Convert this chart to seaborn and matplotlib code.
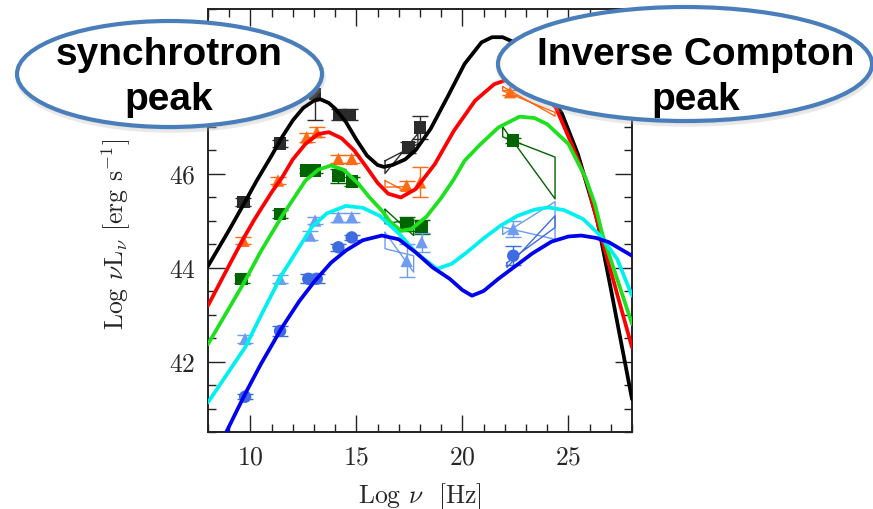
import numpy as np
import pandas as pd
import matplotlib
matplotlib.use("Agg")
import matplotlib.pyplot as plt
from matplotlib.patches import Ellipse
from matplotlib.ticker import MultipleLocator
import seaborn as sns

# Estilo
sns.set_theme(style="ticks")
plt.rcParams["font.family"] = ["cmr10", "DejaVu Serif"]
plt.rcParams["mathtext.fontset"] = "cm"
plt.rcParams["axes.formatter.use_mathtext"] = True

# Curvas do modelo (Log nu, Log nuL_nu)
black_x = [8.0, 9.0, 9.7, 10.3, 11.0, 11.5, 12.0, 12.5, 13.0, 13.3, 13.7, 14.0, 14.5, 15.0, 15.5, 16.0, 16.3,
           16.7, 17.3, 17.8, 18.5, 19.3, 20.1, 20.9, 21.4, 21.9, 22.5, 23.0, 23.5, 24.0, 24.7, 25.45, 26.35, 27.0, 28.0]
black_y = [44.03, 44.8, 45.36, 45.85, 46.38, 46.78, 47.13, 47.4, 47.55, 47.58, 47.5, 47.38, 47.1, 46.72, 46.38, 46.18, 46.14,
           46.18, 46.3, 46.5, 46.95, 47.63, 48.33, 48.79, 48.9, 48.9, 48.78, 48.55, 48.2, 47.8, 47.27, 46.41, 45.03, 43.55, 41.2]

red_x = [8.0, 9.0, 9.65, 10.2, 11.0, 11.5, 12.0, 12.6, 13.2, 13.7, 14.3, 14.9, 15.5, 16.0, 16.5, 17.1, 17.8,
         18.7, 19.6, 20.6, 21.5, 22.2, 22.8, 23.5, 24.4, 25.15, 25.9, 26.6, 28.0]
red_y = [43.19, 44.05, 44.6, 45.03, 45.6, 45.92, 46.3, 46.63, 46.84, 46.88, 46.75, 46.49, 46.12, 45.8, 45.57, 45.49, 45.67,
         46.2, 46.91, 47.55, 47.9, 48.01, 47.98, 47.8, 47.41, 46.63, 45.78, 44.57, 42.3]

green_x = [8.0, 9.0, 9.75, 10.5, 11.5, 12.6, 13.2, 13.8, 14.4, 15.1, 15.6, 16.2, 16.6, 17.1, 17.6, 18.3, 19.0,
           19.6, 20.1, 20.8, 21.7, 22.7, 23.4, 24.0, 25.0, 25.8, 26.25, 26.6, 28.0]
green_y = [42.37, 43.14, 43.72, 44.35, 45.1, 45.85, 46.08, 46.17, 46.08, 45.78, 45.5, 45.21, 44.97, 44.78, 44.82, 45.08, 45.48,
           45.88, 46.27, 46.6, 46.98, 47.21, 47.18, 47.05, 46.63, 45.92, 45.35, 44.71, 42.8]

cyan_x = [8.0, 9.75, 10.5, 11.5, 12.9, 13.6, 14.5, 15.3, 16.1, 17.1, 17.8, 18.8, 19.5, 20.2, 21.0, 21.8, 22.6,
          23.4, 24.05, 24.8, 25.7, 26.5, 27.3, 28.0]
cyan_y = [41.13, 42.3, 42.98, 43.86, 44.86, 45.15, 45.31, 45.27, 45.1, 44.68, 44.32, 43.97, 44.08, 44.32, 44.62, 44.89, 45.1,
          45.23, 45.28, 45.22, 45.03, 44.68, 44.18, 43.4]

blue_x = [8.7, 9.75, 10.5, 11.5, 12.3, 13.05, 13.8, 14.5, 15.3, 16.2, 17.0, 17.8, 18.6, 19.4, 20.0, 20.45, 21.0,
          21.7, 22.5, 23.3, 24.2, 25.0, 25.6, 26.3, 26.9, 28.0]
blue_y = [40.35, 41.31, 41.95, 42.73, 43.28, 43.72, 44.1, 44.36, 44.58, 44.68, 44.6, 44.32, 44.0, 43.76, 43.52, 43.4, 43.5,
          43.76, 44.03, 44.3, 44.55, 44.66, 44.68, 44.63, 44.54, 44.25]

# Pontos observados (com barras de erro)
sq_black_x = [9.67, 11.4, 13.05, 14.2, 14.7, 17.45, 18.0]
sq_black_y = [45.39, 46.64, 47.69, 47.25, 47.25, 46.56, 46.98]
sq_black_err = [0.08, 0.08, 0.55, 0.12, 0.12, 0.12, 0.25]

tri_orange_x = [9.67, 11.3, 12.65, 13.13, 14.15, 14.78, 17.37, 18.0, 22.25]
tri_orange_y = [44.57, 45.85, 46.77, 46.88, 46.31, 46.31, 45.74, 45.81, 47.73]
tri_orange_err = [0.08, 0.08, 0.1, 0.1, 0.08, 0.08, 0.1, 0.32, 0.05]

sq_green_x = [9.59, 11.4, 12.65, 13.05, 14.15, 14.78, 17.37, 18.08, 22.4]
sq_green_y = [43.76, 45.14, 46.06, 46.06, 45.95, 45.83, 44.93, 44.86, 46.7]
sq_green_err = [0.08, 0.08, 0.05, 0.05, 0.15, 0.1, 0.15, 0.15, 0.05]

tri_light_x = [9.75, 11.4, 12.81, 13.05, 14.15, 14.78, 17.37, 18.08, 22.4]
tri_light_y = [42.48, 43.76, 44.68, 45.0, 45.07, 45.07, 44.14, 44.54, 44.82]
tri_light_err = [0.08, 0.08, 0.1, 0.08, 0.1, 0.1, 0.35, 0.2, 0.18]

circ_blue_x = [9.75, 11.4, 12.73, 13.13, 14.15, 14.78, 22.4]
circ_blue_y = [41.25, 42.65, 43.76, 43.76, 44.43, 44.64, 44.25]
circ_blue_err = [0.05, 0.1, 0.1, 0.1, 0.08, 0.05, 0.2]

# "Bowties" de raios X e gama: (x esq, y esq topo, y esq base, x dir, y dir topo, y dir base)
bowties = [
    ("black", 16.35, 46.27, 46.0, 17.9, 46.85, 46.63),
    ("orange", 16.35, 45.85, 45.71, 17.4, 45.72, 45.6),
    ("green", 16.35, 45.24, 44.93, 17.7, 45.03, 44.68),
    ("light", 16.35, 44.75, 44.4, 17.7, 44.25, 43.9),
    ("orange", 21.9, 47.85, 47.76, 24.37, 47.3, 47.22),
    ("green", 21.9, 46.99, 46.78, 24.37, 46.35, 45.46),
    ("light", 21.9, 44.86, 44.7, 24.37, 45.4, 44.6),
    ("circ", 22.1, 44.1, 44.0, 24.37, 45.1, 44.85),
]

model_colors = {"black": "black", "red": "#ff0000", "green": "#1ee01e", "cyan": "#00f0f0", "blue": "#0000ee"}
point_colors = {"black": "#2b2b2b", "orange": "#ff6a13", "green": "#006400", "light": "#6d9cf2", "circ": "#3d6ce0"}

curvas = pd.concat([
    pd.DataFrame({"x": black_x, "y": black_y, "modelo": "black"}),
    pd.DataFrame({"x": red_x, "y": red_y, "modelo": "red"}),
    pd.DataFrame({"x": green_x, "y": green_y, "modelo": "green"}),
    pd.DataFrame({"x": cyan_x, "y": cyan_y, "modelo": "cyan"}),
    pd.DataFrame({"x": blue_x, "y": blue_y, "modelo": "blue"}),
])

pontos = pd.concat([
    pd.DataFrame({"x": sq_black_x, "y": sq_black_y, "err": sq_black_err, "fonte": "black"}),
    pd.DataFrame({"x": tri_orange_x, "y": tri_orange_y, "err": tri_orange_err, "fonte": "orange"}),
    pd.DataFrame({"x": sq_green_x, "y": sq_green_y, "err": sq_green_err, "fonte": "green"}),
    pd.DataFrame({"x": tri_light_x, "y": tri_light_y, "err": tri_light_err, "fonte": "light"}),
    pd.DataFrame({"x": circ_blue_x, "y": circ_blue_y, "err": circ_blue_err, "fonte": "circ"}),
])
markers = {"black": "s", "orange": "^", "green": "s", "light": "^", "circ": "o"}

W, H = 873, 510
fig = plt.figure(figsize=(W / 100, H / 100), dpi=100)
ax = fig.add_axes([208 / W, 1 - 433 / H, 424 / W, 423 / H])

# barras de erro
for fonte, g in pontos.groupby("fonte"):
    ax.errorbar(g["x"], g["y"], yerr=g["err"], fmt="none", ecolor=point_colors[fonte],
                elinewidth=1.0, capsize=6, capthick=1.0, zorder=2)

# bowties
for fonte, xl, ylt, ylb, xr, yrt, yrb in bowties:
    ax.plot([xl, xr, xr, xl, xl], [ylt, yrb, yrt, ylb, ylt], color=point_colors[fonte], lw=1.0, zorder=2)

sns.scatterplot(data=pontos, x="x", y="y", hue="fonte", style="fonte", palette=point_colors,
                markers=markers, s=80, edgecolor="none", legend=False, ax=ax, zorder=3)

sns.lineplot(data=curvas, x="x", y="y", hue="modelo", palette=model_colors, sort=False,
             estimator=None, linewidth=2.7, legend=False, ax=ax, zorder=4)

ax.set_xlim(8, 28)
ax.set_ylim(40.5, 49.5)
ax.xaxis.set_major_locator(MultipleLocator(5))
ax.xaxis.set_minor_locator(MultipleLocator(1))
ax.yaxis.set_major_locator(MultipleLocator(2))
ax.yaxis.set_minor_locator(MultipleLocator(0.5))
ax.tick_params(which="both", direction="in", top=True, right=True, color="#222222", labelsize=18.5)
ax.tick_params(which="major", length=12, width=1.0, pad=9)
ax.tick_params(which="minor", length=6, width=1.0)
for sp in ax.spines.values():
    sp.set_linewidth(1.4)
    sp.set_color("#222222")

ax.set_xlabel(r"Log $\nu$  [Hz]", fontsize=18.5)
ax.set_ylabel(r"Log $\nu$L$_\nu$ [erg s$^{-1}$]", fontsize=18.5)
ax.xaxis.set_label_coords(0.5, -0.113)
ax.yaxis.set_label_coords(-0.178, 0.47)


# Baloes com texto
def balao(cx, cy, w, h, linhas, tx, bases):
    sombra = Ellipse(((cx + 1) / W, 1 - (cy + 3) / H), w / W, h / H, transform=fig.transFigure,
                     facecolor="#cccccc", edgecolor="#aaaaaa", lw=4, alpha=0.25, zorder=9)
    el = Ellipse((cx / W, 1 - cy / H), w / W, h / H, transform=fig.transFigure,
                 facecolor="white", edgecolor="#4a7ebb", lw=3, zorder=10)
    fig.add_artist(sombra)
    fig.add_artist(el)
    for texto, by in zip(linhas, bases):
        fig.text(tx / W, 1 - by / H, texto, ha="center", va="baseline", fontsize=28,
                 fontweight="bold", family="Liberation Sans", color="black", zorder=11)


balao(169.5, 75, 305, 106, ["synchrotron", "peak"], 169, [65, 110])
balao(685, 65, 374, 114, ["Inverse Compton", "peak"], 696, [65, 110])

fig.savefig("out.png", dpi=100)
